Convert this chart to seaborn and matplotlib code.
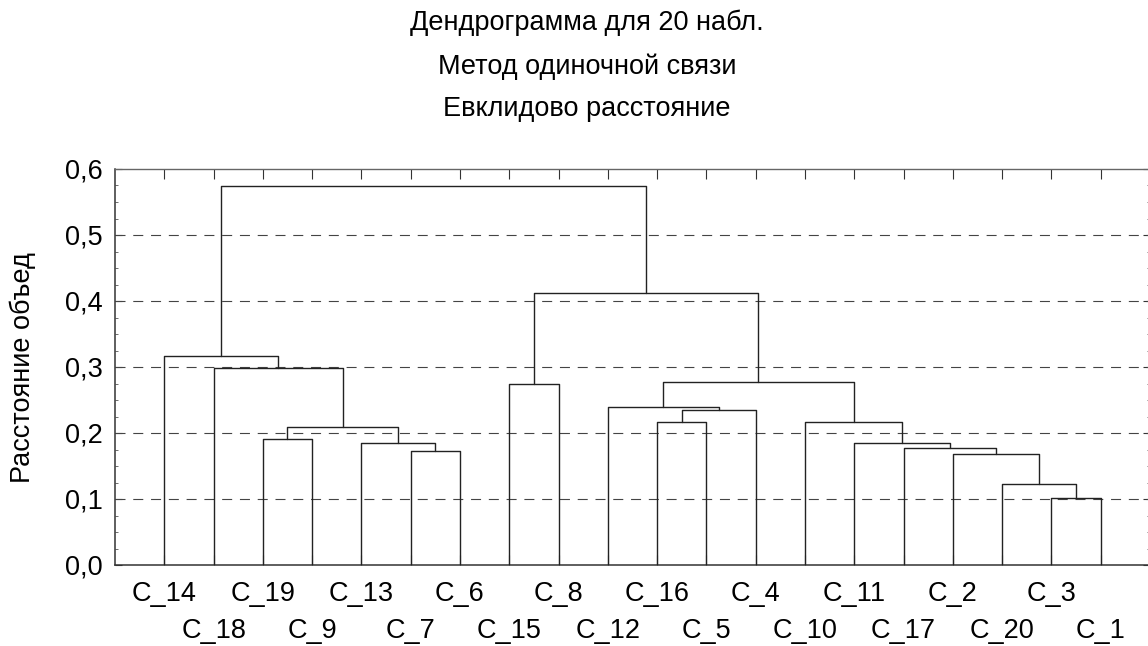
import numpy as np
import pandas as pd
import matplotlib
matplotlib.use("Agg")
import matplotlib.pyplot as plt
import seaborn as sns
from matplotlib.ticker import MultipleLocator

# ---------------- data ----------------
leaf_order = ["C_14", "C_18", "C_19", "C_9", "C_13", "C_7", "C_6", "C_15", "C_8", "C_12",
              "C_16", "C_5", "C_4", "C_10", "C_11", "C_17", "C_2", "C_20", "C_3", "C_1"]

merge_name   = ["P", "O", "N", "M", "L", "Q", "K", "J", "I", "H", "R", "S",
                "G", "F", "E", "D", "B", "A", "ROOT"]
merge_left   = ["C_3", "C_20", "C_2", "C_17", "C_11", "C_10", "C_16", "K", "C_12", "I", "C_15", "R",
                "C_7", "C_13", "C_19", "E", "C_18", "C_14", "A"]
merge_right  = ["C_1", "P", "O", "N", "M", "L", "C_5", "C_4", "J", "Q", "C_8", "H",
                "C_6", "G", "C_9", "F", "D", "B", "S"]
merge_height = [0.102, 0.122, 0.168, 0.178, 0.185, 0.217, 0.216, 0.235, 0.239, 0.278, 0.275, 0.412,
                0.172, 0.185, 0.191, 0.209, 0.299, 0.316, 0.574]

y_ticks = [0.0, 0.1, 0.2, 0.3, 0.4, 0.5, 0.6]
y_tick_labels = ["0,0", "0,1", "0,2", "0,3", "0,4", "0,5", "0,6"]
grid_values = [0.1, 0.2, 0.3, 0.4, 0.5]

title_lines = ["Дендрограмма для 20 набл.", "Метод одиночной связи", "Евклидово расстояние"]
y_label = "Расстояние объед"

# ---------------- build segments ----------------
pos = {name: i + 1 for i, name in enumerate(leaf_order)}
hgt = {name: 0.0 for name in leaf_order}
rows = []
for j, (l, r, h, n) in enumerate(zip(merge_left, merge_right, merge_height, merge_name)):
    xl, xr = pos[l], pos[r]
    rows += [(j, 0, xl, hgt[l]), (j, 1, xl, h), (j, 2, xr, h), (j, 3, xr, hgt[r])]
    pos[n] = (xl + xr) / 2.0
    hgt[n] = h
df = pd.DataFrame(rows, columns=["seg", "order", "x", "y"])

# ---------------- figure ----------------
sns.set_theme(style="white")
plt.rcParams["font.family"] = ["Liberation Sans", "DejaVu Sans"]

W, H = 1148, 646
fig = plt.figure(figsize=(W / 100, H / 100), dpi=100)
ax = fig.add_axes([115 / W, (H - 565) / H, (1150 - 115) / W, (565 - 169) / H])

for g in grid_values:
    ax.axhline(g, color="#444444", linewidth=0.8, linestyle=(0, (9, 7)), zorder=1)

sns.lineplot(data=df, x="x", y="y", units="seg", estimator=None, sort=False,
             color="#222222", linewidth=1.0, ax=ax, legend=False, zorder=3)

ax.set_xlim(0, len(leaf_order) + 1)
ax.set_ylim(0, 0.6)
ax.set_xlabel("")
ax.set_ylabel("")

n = len(leaf_order)
odd_pos = [i + 1 for i in range(0, n, 2)]
even_pos = [i + 1 for i in range(1, n, 2)]
ax.set_xticks(odd_pos, [leaf_order[i] for i in range(0, n, 2)])
ax.set_xticks(even_pos, [leaf_order[i] for i in range(1, n, 2)], minor=True)
ax.set_yticks(y_ticks, y_tick_labels)
ax.yaxis.set_minor_locator(MultipleLocator(0.025))

FS = 19.5
ax.tick_params(axis="x", which="both", direction="in", top=True, bottom=True,
               length=7, width=0.8, color="#333333", labelsize=FS, labelcolor="black")
ax.tick_params(axis="x", which="major", pad=11.5)
ax.tick_params(axis="x", which="minor", pad=38)
ax.tick_params(axis="y", which="major", direction="in", left=True, right=True,
               length=5, width=0.8, color="#333333", labelsize=FS, labelcolor="black", pad=9)
ax.tick_params(axis="y", which="minor", direction="in", left=True, right=True,
               length=2, width=0.6, color="#555555")

for side in ["left", "bottom"]:
    ax.spines[side].set_color("#333333")
    ax.spines[side].set_linewidth(1.1)
for side in ["top", "right"]:
    ax.spines[side].set_color("#666666")
    ax.spines[side].set_linewidth(1.0)

title_y = [23, 67, 109]
for t, yy in zip(title_lines, title_y):
    fig.text(587 / W, 1 - yy / H, t, ha="center", va="center", fontsize=FS, color="black")

fig.text(23 / W, 1 - 368 / H, y_label, rotation=90, ha="center", va="center",
         fontsize=FS, color="black")

fig.savefig("out.png", dpi=100)
